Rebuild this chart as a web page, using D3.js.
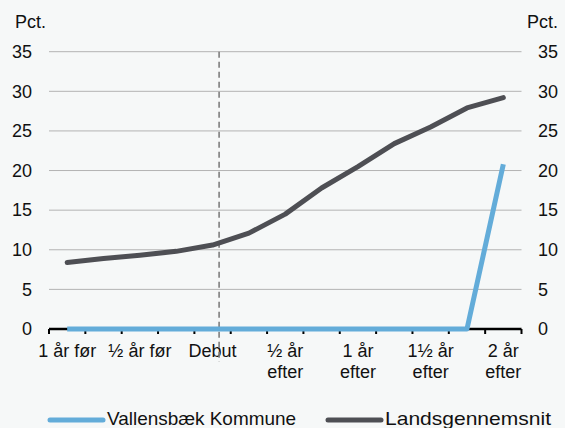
<!DOCTYPE html>
<html>
<head>
<meta charset="utf-8">
<script src="https://cdn.jsdelivr.net/npm/d3@7/dist/d3.min.js"></script>
<style>
  html, body { margin: 0; padding: 0; background: #f6f8f8; }
  svg { display: block; }
  text { font-family: "Liberation Sans", Arial, sans-serif; fill: #111; }
</style>
</head>
<body>
<svg id="chart" width="565" height="428"></svg>
<script>
// Quarters from one year before debut to two years after
const quarters = ["-4", "-3", "-2", "-1", "0", "1", "2", "3", "4", "5", "6", "7", "8"];
const tickLabels = ["1 år før", "", "½ år før", "", "Debut", "", "½ år efter", "", "1 år efter", "", "1½ år efter", "", "2 år efter"];
const vallensbaek = [0, 0, 0, 0, 0, 0, 0, 0, 0, 0, 0, 0, 20.8];
const landsgennemsnit = [8.4, 8.9, 9.3, 9.8, 10.6, 12.1, 14.5, 17.8, 20.5, 23.4, 25.5, 27.9, 29.2];
const yTicks = [0, 5, 10, 15, 20, 25, 30, 35];
const seriesNames = ["Vallensbæk Kommune", "Landsgennemsnit"];
const colors = ["#63acd9", "#4e4f54"];

const svg = d3.select("#chart");
const plotLeft = 49, plotRight = 521.5, plotTop = 51.7, plotBottom = 329;
const fontSize = 18;

const x = d3.scaleBand().domain(quarters).range([plotLeft, plotRight]).padding(0);
const y = d3.scaleLinear().domain([0, 35]).range([plotBottom, plotTop]);
const cx = q => x(q) + x.bandwidth() / 2;

// horizontal gridlines
svg.append("g").selectAll("line").data(yTicks.filter(d => d > 0)).join("line")
  .attr("x1", plotLeft).attr("x2", plotRight)
  .attr("y1", d => y(d)).attr("y2", d => y(d))
  .attr("stroke", "#b3b3b3").attr("stroke-width", 1);

// left and right value labels
const yl = svg.append("g").attr("font-size", fontSize);
yl.selectAll("text.l").data(yTicks).join("text").attr("class", "l")
  .attr("x", 32).attr("y", d => y(d)).attr("dy", "0.35em")
  .attr("text-anchor", "end").text(d => d);
yl.selectAll("text.r").data(yTicks).join("text").attr("class", "r")
  .attr("x", 538).attr("y", d => y(d)).attr("dy", "0.35em")
  .attr("text-anchor", "start").text(d => d);
svg.append("text").attr("x", 15).attr("y", 28).attr("font-size", fontSize).text("Pct.");
svg.append("text").attr("x", 527).attr("y", 28).attr("font-size", fontSize).text("Pct.");

// category axis
const axis = svg.append("g");
axis.append("line").attr("x1", plotLeft).attr("x2", plotRight)
  .attr("y1", plotBottom).attr("y2", plotBottom)
  .attr("stroke", "#000").attr("stroke-width", 2.5);
const bounds = quarters.map(q => x(q)).concat([x(quarters[quarters.length - 1]) + x.bandwidth()]);
axis.selectAll("line.tick").data(bounds).join("line").attr("class", "tick")
  .attr("x1", d => d).attr("x2", d => d)
  .attr("y1", plotBottom).attr("y2", plotBottom + 5)
  .attr("stroke", "#000").attr("stroke-width", 2);

const labelG = axis.selectAll("text.cat").data(quarters.filter((q, i) => tickLabels[i])).join("text")
  .attr("class", "cat")
  .attr("font-size", fontSize).attr("text-anchor", "middle")
  .attr("transform", q => `translate(${cx(q)},${357})`);
labelG.each(function(q) {
  const label = tickLabels[quarters.indexOf(q)];
  const parts = label.endsWith(" efter") ? [label.slice(0, -6), "efter"] : [label];
  d3.select(this).selectAll("tspan").data(parts).join("tspan")
    .attr("x", 0).attr("dy", (d, i) => i === 0 ? 0 : 21.4).text(d => d);
});

// debut marker
const debutShift = 0.18;
const debutX = cx("0") + debutShift * x.bandwidth();
svg.append("line")
  .attr("x1", debutX).attr("x2", debutX)
  .attr("y1", y(35)).attr("y2", 362)
  .attr("stroke", "#7f7f7f").attr("stroke-width", 1.6)
  .attr("stroke-dasharray", "6,4");

// series lines
const line = d3.line().x((d, i) => cx(quarters[i])).y(d => y(d));
[vallensbaek, landsgennemsnit].forEach((vals, k) => {
  svg.append("path").datum(vals)
    .attr("d", line)
    .attr("fill", "none")
    .attr("stroke", colors[k])
    .attr("stroke-width", 5)
    .attr("stroke-linejoin", "round")
    .attr("stroke-linecap", k === 1 ? "round" : "butt");
});

// legend along the bottom edge
const legendX = [50, 328];
const legendTextWidth = [189, 166];
seriesNames.forEach((name, k) => {
  const g = svg.append("g").attr("transform", `translate(${legendX[k]},420)`);
  g.append("line").attr("x1", 0).attr("x2", 53).attr("y1", 0).attr("y2", 0)
    .attr("stroke", colors[k]).attr("stroke-width", 5).attr("stroke-linecap", "round");
  g.append("text").attr("x", 57).attr("y", 5).attr("font-size", 18.5)
    .attr("textLength", legendTextWidth[k]).attr("lengthAdjust", "spacingAndGlyphs")
    .text(name);
});
</script>
</body>
</html>
